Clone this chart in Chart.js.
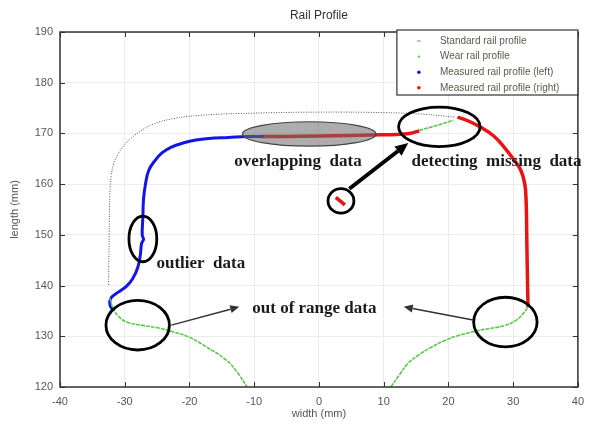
<!DOCTYPE html>
<html>
<head>
<meta charset="utf-8">
<title>Rail Profile</title>
<script src="https://cdn.jsdelivr.net/npm/chart.js@4.4.1/dist/chart.umd.min.js"></script>
<style>
  html, body { margin: 0; padding: 0; background: #fff; }
  #wrap { width: 592px; height: 427px; }
</style>
</head>
<body>
<div id="wrap"><canvas id="railChart" width="592" height="427"></canvas></div>
<script>
// tick labels
var xTicks = [-40, -30, -20, -10, 0, 10, 20, 30, 40];
var yTicks = [120, 130, 140, 150, 160, 170, 180, 190];

// Standard rail profile
var stdX = [-32.5, -32.4, -32.3, -32.1, -31.7, -31.0, -30.0, -28.5, -26.0, -23.0, -18.0, -10.0, 0.0, 10.0, 16.0, 21.0];
var stdY = [140.2, 150.0, 158.0, 161.5, 164.0, 166.0, 167.8, 169.6, 171.6, 172.8, 173.6, 174.0, 174.2, 174.1, 173.8, 173.2];

// Wear rail profile (null = gap)
var wearX = [-32.3, -31.8, -31.0, -29.7, -27.0, -24.6, -22.6, -20.0, -17.5, -14.3, -12.5, -11.1, null,
             11.1, 12.5, 13.7, 15.5, 17.3, 19.5, 21.4, 24.5, 28.6, 30.5, 31.5, 32.3, null,
             15.5, 18.0, 20.8];
var wearY = [137.5, 135.5, 134.0, 132.8, 132.1, 131.6, 130.9, 129.8, 128.0, 125.3, 122.7, 120.0, null,
             120.0, 122.5, 124.6, 126.4, 127.8, 129.2, 130.1, 131.1, 132.1, 133.2, 134.4, 135.7, null,
             170.6, 171.5, 172.6];

// Measured rail profile (left)
var leftX = [-31.8, -32.3, -32.1, -31.0, -29.8, -28.8, -28.0, -27.6, -27.4, -27.1, -27.3, -27.2, -27.1, -26.8, -26.3, -25.3, -24.2, -22.8, -21.0, -19.0, -17.0, -14.0, -11.0, -8.5];
var leftY = [135.0, 136.3, 137.6, 138.7, 139.8, 141.3, 143.5, 146.0, 148.3, 149.1, 150.0, 153.5, 157.0, 160.0, 162.7, 164.7, 166.2, 167.3, 168.1, 168.7, 169.0, 169.2, 169.4, 169.4];

// Measured rail profile (right) (null = gap)
var rightX = [-9.0, -5.0, 0.0, 5.0, 8.0, 12.0, 14.0, 15.5, null,
              21.4, 23.0, 25.0, 27.0, 28.6, 30.0, 31.2, 31.8, 32.0, 32.1, 32.2, 32.3, null,
              2.6, 4.0];
var rightY = [169.4, 169.4, 169.5, 169.6, 169.7, 169.8, 170.0, 170.5, null,
              173.2, 172.5, 171.2, 169.5, 167.3, 165.0, 162.7, 160.0, 156.8, 150.0, 142.0, 135.7, null,
              157.4, 155.9];

function toPoints(xs, ys) {
  return xs.map(function (x, i) { return { x: x, y: ys[i] }; });
}

// annotations, in data units
var ellipses = [
  { x: -1.5, y: 169.9, rx: 10.3, ry: 2.4, fill: 'rgba(105,105,105,0.55)', stroke: '#444', lw: 1.2 },
  { x: 18.6, y: 171.3, rx: 6.3, ry: 3.9, stroke: '#000', lw: 2.8 },
  { x: 3.4, y: 156.7, rx: 2.0, ry: 2.4, stroke: '#000', lw: 2.8 },
  { x: -27.2, y: 149.2, rx: 2.15, ry: 4.5, stroke: '#000', lw: 2.8 },
  { x: -28.0, y: 132.2, rx: 4.9, ry: 4.9, stroke: '#000', lw: 2.8 },
  { x: 28.8, y: 132.8, rx: 4.9, ry: 4.9, stroke: '#000', lw: 2.8 }
];
var arrows = [
  { x1: 4.7, y1: 159.1, x2: 13.8, y2: 168.1, lw: 4, head: 13 },
  { x1: -22.8, y1: 132.2, x2: -12.3, y2: 135.8, lw: 1.5, head: 9 },
  { x1: 23.8, y1: 133.2, x2: 13.1, y2: 135.8, lw: 1.5, head: 9 }
];
var notes = [
  { text: 'overlapping  data', x: -13.1, y: 164.4 },
  { text: 'detecting  missing  data', x: 14.3, y: 164.4 },
  { text: 'outlier  data', x: -25.1, y: 144.4 },
  { text: 'out of range data', x: -10.3, y: 135.4 }
];

var railPlugin = {
  id: 'railDecor',
  beforeDatasetsDraw: function (chart) {
    var ctx = chart.ctx, a = chart.chartArea;
    var xs = chart.scales.x, ys = chart.scales.y;
    ctx.save();
    // title
    ctx.fillStyle = '#333';
    ctx.font = '12px "Liberation Sans", Arial, sans-serif';
    ctx.textAlign = 'center';
    ctx.textBaseline = 'middle';
    ctx.fillText('Rail Profile', (a.left + a.right) / 2, 16);
    // inner tick marks
    ctx.strokeStyle = '#333';
    ctx.lineWidth = 1;
    ctx.beginPath();
    xTicks.forEach(function (v) {
      var px = Math.round(xs.getPixelForValue(v)) + 0.5;
      ctx.moveTo(px, a.bottom); ctx.lineTo(px, a.bottom - 5);
      ctx.moveTo(px, a.top); ctx.lineTo(px, a.top + 5);
    });
    yTicks.forEach(function (v) {
      var py = Math.round(ys.getPixelForValue(v)) + 0.5;
      ctx.moveTo(a.left, py); ctx.lineTo(a.left + 5, py);
      ctx.moveTo(a.right, py); ctx.lineTo(a.right - 5, py);
    });
    ctx.stroke();
    ctx.restore();
  },
  afterDatasetsDraw: function (chart) {
    var ctx = chart.ctx, a = chart.chartArea;
    var xs = chart.scales.x, ys = chart.scales.y;
    var sx = xs.width / (xs.max - xs.min), sy = ys.height / (ys.max - ys.min);
    ctx.save();
    // frame
    ctx.strokeStyle = '#333';
    ctx.lineWidth = 1.5;
    ctx.strokeRect(a.left, a.top, a.right - a.left, a.bottom - a.top);

    // ellipses
    ellipses.forEach(function (e) {
      ctx.beginPath();
      ctx.ellipse(xs.getPixelForValue(e.x), ys.getPixelForValue(e.y), e.rx * sx, e.ry * sy, 0, 0, Math.PI * 2);
      if (e.fill) { ctx.fillStyle = e.fill; ctx.fill(); }
      ctx.strokeStyle = e.stroke;
      ctx.lineWidth = e.lw;
      ctx.stroke();
    });

    // arrows
    arrows.forEach(function (ar) {
      var x1 = xs.getPixelForValue(ar.x1), y1 = ys.getPixelForValue(ar.y1);
      var x2 = xs.getPixelForValue(ar.x2), y2 = ys.getPixelForValue(ar.y2);
      var ang = Math.atan2(y2 - y1, x2 - x1);
      var bx = x2 - ar.head * Math.cos(ang), by = y2 - ar.head * Math.sin(ang);
      ctx.strokeStyle = ar.lw > 2 ? '#000' : '#333';
      ctx.fillStyle = ctx.strokeStyle;
      ctx.lineWidth = ar.lw;
      ctx.beginPath();
      ctx.moveTo(x1, y1); ctx.lineTo(bx, by);
      ctx.stroke();
      ctx.beginPath();
      ctx.moveTo(x2, y2);
      ctx.lineTo(bx + ar.head * 0.45 * Math.sin(ang), by - ar.head * 0.45 * Math.cos(ang));
      ctx.lineTo(bx - ar.head * 0.45 * Math.sin(ang), by + ar.head * 0.45 * Math.cos(ang));
      ctx.closePath();
      ctx.fill();
    });

    // texts
    ctx.fillStyle = '#1a1a1a';
    ctx.font = 'bold 17px "Liberation Serif", "Times New Roman", serif';
    ctx.textAlign = 'left';
    ctx.textBaseline = 'middle';
    notes.forEach(function (n) {
      ctx.fillText(n.text, xs.getPixelForValue(n.x), ys.getPixelForValue(n.y));
    });

    // legend box
    var bw = 181, bh = 65;
    var bx0 = a.right - bw, by0 = a.top - 2;
    ctx.fillStyle = '#fff';
    ctx.fillRect(bx0, by0, bw, bh);
    ctx.strokeStyle = '#333';
    ctx.lineWidth = 1.2;
    ctx.strokeRect(bx0, by0, bw, bh);
    ctx.font = '10px "Liberation Sans", Arial, sans-serif';
    ctx.textBaseline = 'middle';
    chart.data.datasets.forEach(function (ds, i) {
      var ly = by0 + 11 + i * 15.6;
      var mx = bx0 + 22;
      if (i === 0) {
        ctx.strokeStyle = '#888';
        ctx.lineWidth = 1;
        ctx.beginPath(); ctx.moveTo(mx - 2, ly); ctx.lineTo(mx + 2, ly); ctx.stroke();
      } else {
        ctx.fillStyle = ds.borderColor;
        ctx.beginPath(); ctx.arc(mx, ly, i === 1 ? 1.2 : 1.8, 0, Math.PI * 2); ctx.fill();
      }
      ctx.fillStyle = '#5a5a4a';
      ctx.fillText(ds.label, bx0 + 43, ly);
    });
    ctx.restore();
  }
};

var ctx = document.getElementById('railChart').getContext('2d');
var railChart = new Chart(ctx, {
  type: 'scatter',
  data: {
    datasets: [{
      label: 'Standard rail profile',
      data: toPoints(stdX, stdY),
      showLine: true,
      tension: 0.4,
      borderColor: '#555',
      borderWidth: 1,
      borderDash: [1, 1.5],
      pointRadius: 0
    }, {
      label: 'Wear rail profile',
      data: toPoints(wearX, wearY),
      showLine: true,
      tension: 0.4,
      borderColor: '#5cc84a',
      borderWidth: 1.6,
      borderDash: [4, 1],
      pointRadius: 0
    }, {
      label: 'Measured rail profile (left)',
      data: toPoints(leftX, leftY),
      showLine: true,
      tension: 0.4,
      borderColor: '#1414e6',
      borderWidth: 3,
      pointRadius: 0
    }, {
      label: 'Measured rail profile (right)',
      data: toPoints(rightX, rightY),
      showLine: true,
      tension: 0.4,
      borderColor: '#e81414',
      borderWidth: 3.5,
      pointRadius: 0
    }]
  },
  options: {
    responsive: false,
    animation: false,
    devicePixelRatio: 1,
    layout: { padding: { top: 32, right: 14, left: 0, bottom: 0 } },
    plugins: {
      legend: { display: false },
      tooltip: { enabled: false },
      title: { display: false }
    },
    scales: {
      x: {
        type: 'linear',
        min: -40,
        max: 40,
        afterBuildTicks: function (scale) { scale.ticks = xTicks.map(function (v) { return { value: v }; }); },
        afterFit: function (scale) { scale.height = 40; },
        grid: { color: '#ececec', drawTicks: false },
        border: { display: false },
        ticks: { color: '#555', padding: 8, font: { size: 11, family: '"Liberation Sans", Arial, sans-serif' } },
        title: { display: true, text: 'width (mm)', color: '#555', padding: { top: 2, bottom: 6 }, font: { size: 11, family: '"Liberation Sans", Arial, sans-serif' } }
      },
      y: {
        type: 'linear',
        min: 120,
        max: 190,
        afterBuildTicks: function (scale) { scale.ticks = yTicks.map(function (v) { return { value: v }; }); },
        afterFit: function (scale) { scale.width = 60; },
        grid: { color: '#ececec', drawTicks: false },
        border: { display: false },
        ticks: { color: '#555', padding: 7, font: { size: 11, family: '"Liberation Sans", Arial, sans-serif' } },
        title: { display: true, text: 'length (mm)', color: '#555', padding: { top: 8, bottom: 4 }, font: { size: 11, family: '"Liberation Sans", Arial, sans-serif' } }
      }
    }
  },
  plugins: [railPlugin]
});
</script>
</body>
</html>
